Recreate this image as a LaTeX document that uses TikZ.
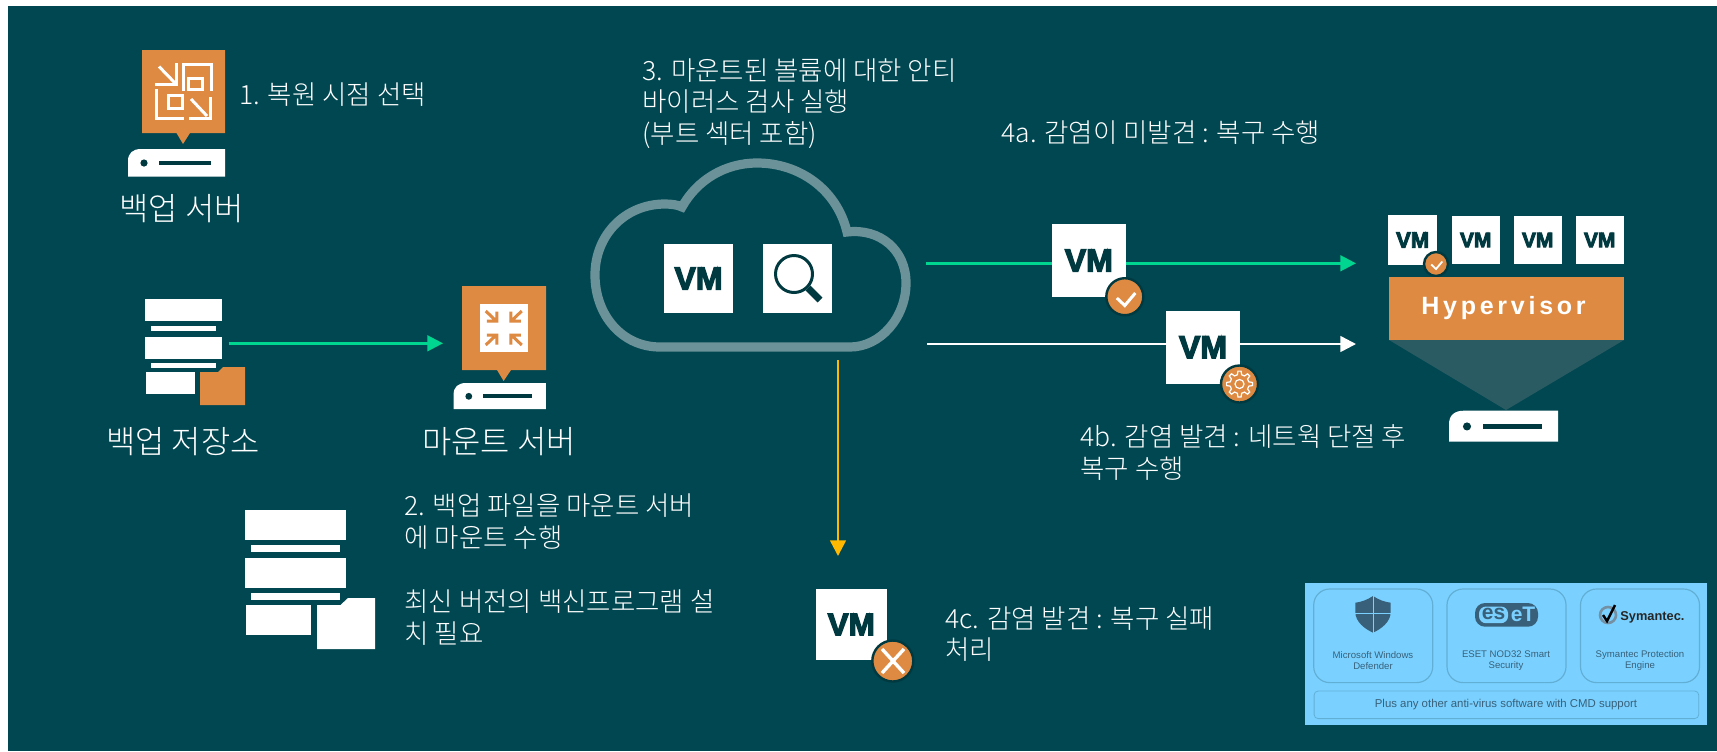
\documentclass[tikz,border=0pt]{standalone}
\usepackage{fontspec}
\setmainfont{Noto Sans CJK KR Light}
\newfontfamily\latinsans{Liberation Sans}
\newfontfamily\vmfont[BoldFeatures={FakeBold=4}]{Liberation Sans}
\newfontfamily\hvfont[LetterSpace=15]{Liberation Sans}
\usetikzlibrary{arrows.meta}
\definecolor{bgteal}{HTML}{004751}
\definecolor{vmdark}{HTML}{003A40}
\definecolor{vmorange}{HTML}{DE8A42}
\definecolor{okgreen}{HTML}{00D68F}
\definecolor{failyellow}{HTML}{FFB900}
\definecolor{cloudline}{HTML}{6A9298}
\definecolor{funnel}{HTML}{2A5B63}
\definecolor{panelblue}{HTML}{7AD1FF}
\definecolor{panelline}{HTML}{62AFD6}
\definecolor{panelink}{HTML}{38607A}
\tikzset{
    >={Triangle[length=7.8pt,width=7.8pt]}, % plain triangular heads
    flow/.style={->, line width=1.25pt}, % the arrows between the steps
    vmbox/.style 2 args={fill=white, text=vmdark, inner sep=0pt, minimum size=#1, font=\vmfont\bfseries\fontsize{#2}{#2}\selectfont},
    badge/.style={circle, fill=vmorange, draw=vmdark, inner sep=0pt, line width=1.2pt},
    steptext/.style={text=white, anchor=west, align=left, inner sep=0pt, font=\fontsize{13.25}{15.8}\selectfont},
    caption/.style={text=white, inner sep=0pt, font=\fontsize{15.9}{18}\selectfont},
    avcard/.style={draw=panelline, line width=.6pt, rounded corners=8pt, minimum width=59.5pt, minimum height=46.8pt},
    avlabel/.style={text=panelink, align=center, inner sep=0pt, font=\latinsans\fontsize{4.8}{5.6}\selectfont},
}
% small white tick, centre and size
\newcommand{\tickmark}[3]{\draw[white, line width=#3*1.5pt, shift={(#1,#2)}, scale=#3] (-8,0) -- (0,7.5) -- (10.5,-5);}
% server front, top left corner and size
\newcommand{\serverunit}[3]{
    \begin{scope}[shift={(#1,#2)}, scale=#3]
        \fill[white] (0,27.5) -- (0,12) .. controls (0,4) and (5,0) .. (13,0) -- (97,0) -- (97,27.5) -- cycle;
        \fill[vmdark] (16,14) circle (3.6);
        \fill[vmdark] (30.5,12) rectangle (83,16);
    \end{scope}
}
% repository stack, given as one drawing per size
\newcommand{\stackbars}[8]{
    \fill[white] (#1,#3) rectangle (#2,#4);
    \fill[white] (#1+6,#5) rectangle (#2-6,#6);
    \fill[white] (#1,#6+5.5) rectangle (#2,#6+5.5+#4-#3);
    \fill[white] (#1+6,#7) rectangle (#2-6,#8);
}

\begin{document}
\begin{tikzpicture}[x=0.5pt, y=-0.5pt]
    \useasboundingbox (0,0) rectangle (1717,751);
    \fill[white] (0,0) rectangle (1717,751);
    \fill[bgteal] (8,6) rectangle (1717,751);

    % backup server
    \fill[vmorange] (142,50) -- (225,50) -- (225,133) -- (190,133) -- (183,144) -- (176.5,133) -- (142,133) -- cycle;
    \begin{scope}[white, line width=1.5pt]
        \draw (183,91) -- (183,64) -- (211,64) -- (211,91);
        \draw (188,78) rectangle (202,89);
        \draw (159,66.5) -- (175,83);
        \draw (176,63) -- (176,84) -- (155,84);
        \draw (156,89) -- (156,118) -- (184,118);
        \draw (168,95) rectangle (182,108);
        \draw (191,99) -- (207,116);
        \draw (210,97) -- (210,118) -- (189,118);
    \end{scope}
    \serverunit{128}{149}{1}
    \node[caption] (backupcap) at (181.5,209) {백업 서버};
    \node[steptext] (stepone) at (239,95) {1. 복원 시점 선택};

    % repository
    \stackbars{145}{222}{299}{321}{326}{331}{363}{367.5}
    \fill[white] (146,372) rectangle (195,394);
    \fill[vmorange] (200,372) -- (218,372) -- (223,367) -- (245,367) -- (245,405) -- (200,405) -- cycle;
    \node[caption] (repocap) at (183,442) {백업 저장소};

    % mount server
    \fill[vmorange] (462,286) -- (546,286) -- (546,370) -- (511,370) -- (503.6,381) -- (497,370) -- (462,370) -- cycle;
    \fill[white] (480,304) rectangle (527.5,352);
    \foreach \sx/\sy in {1/1, -1/1, 1/-1, -1/-1}
        \draw[vmorange, line width=1.5pt, shift={(503.75,328)}, xscale=\sx, yscale=\sy]
            (-18,-17) -- (-7.5,-7) (-7,-16.5) -- (-7,-7) -- (-17,-7);
    \serverunit{453.6}{383}{.95}
    \node[caption] (mountcap) at (499,442) {마운트 서버};

    \coordinate (repoout) at (228.6,343.3);
    \coordinate (mountin) at (443,343.3);
    \draw[flow, okgreen] (repoout) -- (mountin);

    \node[steptext] (steptwo) at (404,569.5) {2. 백업 파일을 마운트 서버\\에 마운트 수행\\[16.5pt]최신 버전의 백신프로그램 설\\치 필요};

    % larger repository
    \stackbars{245}{346}{510}{540}{545}{552}{593}{600}
    \fill[white] (246,605) rectangle (311,635);
    \fill[white] (317,605) -- (340.5,605) -- (348,598) -- (375,598) -- (375,649) -- (317,649) -- cycle;

    % cloud
    \draw[cloudline, line width=4.6pt, line join=miter]
        (850,347) -- (660,347) .. controls (622,347) and (595,315) .. (595,275)
        .. controls (595,235) and (625,204) .. (665,204)
        .. controls (672,204) and (678,205) .. (682,207)
        .. controls (697,180) and (725,163) .. (757,163)
        .. controls (800,163) and (837,190) .. (847,232)
        .. controls (880,228) and (906,250) .. (906,283)
        .. controls (906,318) and (880,347) .. (850,347);
    \node[vmbox={34.5pt}{16}] (vmcloud) at (698.5,278.5) {VM};
    \node[vmbox={34.5pt}{16}] (scanbox) at (797.5,278.5) {};
    \draw[vmdark, line width=1.5pt] (794,274) circle (18.5);
    \draw[vmdark, line width=3.5pt] (808,288) -- (820,300);
    \node[steptext] (stepthree) at (642,103.5) {3. 마운트된 볼륨에 대한 안티\\바이러스 검사 실행\\(부트 섹터 포함)};

    % outgoing arrows
    \coordinate (cloudok) at (926,263.3);
    \coordinate (hostok) at (1356,263.3);
    \coordinate (cloudfix) at (927,344);
    \coordinate (hostfix) at (1356,344);
    \coordinate (cloudfail) at (838,360);
    \coordinate (failin) at (838,556);
    \draw[flow, okgreen] (cloudok) -- (hostok);
    \draw[flow, white] (cloudfix) -- (hostfix);
    \draw[flow, failyellow] (cloudfail) -- (failin);

    \node[vmbox={36.8pt}{16}] (vmok) at (1088.8,260.5) {VM};
    \node[badge, minimum size=18.5pt] (badgeok) at (1124.8,296.7) {};
    \tickmark{1124.8}{298}{1}
    \node[vmbox={36.8pt}{16}] (vmfix) at (1203,347.3) {VM};
    \node[badge, minimum size=18.5pt] (badgefix) at (1239.5,384) {};
    \draw[white, line width=.6pt, shift={(1239.5,384)}] (-13:9.5)
        \foreach \a in {0,45,...,315} { -- ({\a-13}:9.5) -- ({\a-7}:13) -- ({\a+7}:13) -- ({\a+13}:9.5)} -- cycle;
    \draw[white, line width=.6pt] (1239.5,384) circle (4.5);
    \node[vmbox={35.6pt}{15.7}] (vmfail) at (851.2,624.5) {VM};
    \node[badge, minimum size=20.5pt] (badgefail) at (892.8,661) {};
    \draw[white, line width=1.7pt] (882,649) -- (904,673) (904,649) -- (882,673);

    \node[steptext] (stepfoura) at (1001,132.5) {4a. 감염이 미발견 : 복구 수행};
    \node[steptext] (stepfourb) at (1080,452.5) {4b. 감염 발견 : 네트웍 단절 후\\복구 수행};
    \node[steptext] (stepfourc) at (945,634) {4c. 감염 발견 : 복구 실패\\처리};

    % host with its machines
    \node[vmbox={24.6pt}{11}] (vmone) at (1412.6,240) {VM};
    \node[vmbox={24pt}{10.5}] (vmtwo) at (1475.7,240) {VM};
    \node[vmbox={24pt}{10.5}] (vmthree) at (1537.7,240) {VM};
    \node[vmbox={24pt}{10.5}] (vmfour) at (1599.7,240) {VM};
    \node[badge, minimum size=12pt] (badgehost) at (1436,264) {};
    \tickmark{1436}{264.5}{.6}
    \fill[funnel] (1389,340) -- (1624,340) -- (1506,410) -- cycle;
    \node[fill=vmorange, text=white, inner sep=0pt, minimum width=117.5pt, minimum height=31.5pt, text depth=3pt, font=\hvfont\bfseries\fontsize{12.5}{14}\selectfont] (hypervisor) at (1506.5,308.5) {Hypervisor\kern3pt};
    \serverunit{1449}{410.7}{1.124}

    % anti-virus panel
    \fill[panelblue] (1305,583) rectangle (1707,725);
    \node[avcard] (cardms) at (1373.2,635.8) {};
    \node[avcard] (cardeset) at (1506.5,635.8) {};
    \node[avcard] (cardsym) at (1640,635.8) {};
    \node[draw=panelline, line width=.4pt, rounded corners=2pt, minimum width=192.3pt, minimum height=13.8pt] (cardother) at (1506.4,704.8) {};

    \fill[panelink] (1373,596) .. controls (1367,600) and (1361,602) .. (1355.3,602.7) -- (1355.3,612)
        .. controls (1355.3,622) and (1365,629) .. (1373,632.7)
        .. controls (1381,629) and (1390.7,622) .. (1390.7,612) -- (1390.7,602.7)
        .. controls (1385,602) and (1379,600) .. (1373,596) -- cycle;
    \draw[panelblue, line width=.5pt] (1373,596) -- (1373,633) (1355,613) -- (1391,613);

    \fill[panelink, rounded corners=5pt] (1475,603) rectangle (1538,626.7);
    \fill[panelblue, rounded corners=3.5pt] (1479,606.5) rectangle (1508,623.2);
    \node[text=panelink, inner sep=0pt, font=\latinsans\bfseries\fontsize{10.5}{11}\selectfont] (esetleft) at (1493.5,613.5) {es};
    \node[text=panelblue, inner sep=0pt, font=\latinsans\bfseries\fontsize{10.5}{11}\selectfont] (esetright) at (1523,614) {eT};

    \draw[panelink!70, line width=1.3pt] (1608,615) circle (8);
    \draw[black, line width=1.2pt] (1603,615) -- (1607,621) -- (1615,605);
    \node[text=black!85, inner sep=0pt, anchor=west, font=\latinsans\bfseries\fontsize{6.4}{8}\selectfont] (symname) at (1620,617) {Symantec.};

    \node[avlabel] (lblms) at (1373,660.5) {Microsoft Windows\\Defender};
    \node[avlabel] (lbleset) at (1506,660.5) {ESET NOD32 Smart\\Security};
    \node[avlabel] (lblsym) at (1640,660.5) {Symantec Protection\\Engine};
    \node[avlabel, font=\latinsans\fontsize{5.7}{7}\selectfont] (lblother) at (1506,705) {Plus any other anti-virus software with CMD support};
\end{tikzpicture}
\end{document}
